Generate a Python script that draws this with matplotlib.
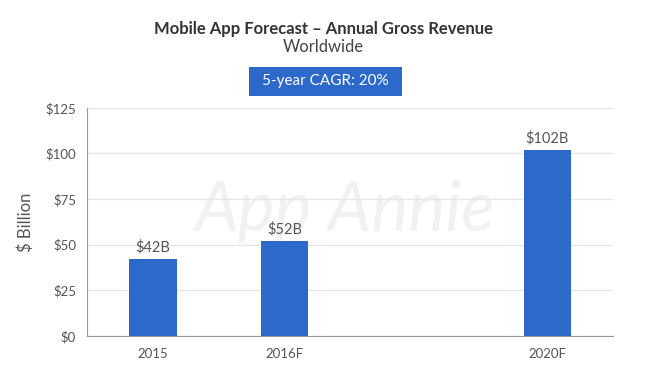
import matplotlib.pyplot as plt
from matplotlib.patches import Rectangle

categories = ['2015', '2016F', '2020F']
positions = [0, 1, 3]
revenue = [42, 52, 102]
bar_labels = ['$42B', '$52B', '$102B']
yticks = [0, 25, 50, 75, 100, 125]
ytick_labels = ['$0', '$25', '$50', '$75', '$100', '$125']

plt.rcParams['font.family'] = ['Lato', 'DejaVu Sans']

blue = '#2c69cb'
grey = '#555555'

fig = plt.figure(figsize=(6.6, 3.77), dpi=100)
ax = fig.add_axes([0.132, 0.109, 0.797, 0.605])

ax.bar(positions, revenue, width=0.36, color=blue, zorder=3)
for x, v, lab in zip(positions, revenue, bar_labels):
    ax.text(x, v + 2.5, lab, ha='center', va='bottom', fontsize=10.5, color=grey, zorder=4)

ax.set_xlim(-0.5, 3.5)
ax.set_ylim(0, 125)
ax.set_xticks(positions)
ax.set_xticklabels(categories)
ax.set_yticks(yticks)
ax.set_yticklabels(ytick_labels)
ax.tick_params(length=0, labelsize=9.5, colors=grey, pad=8)
ax.tick_params(axis='x', pad=9)
ax.grid(axis='y', color='#e6e6e6', linewidth=1, zorder=0)
for s in ['top', 'right']:
    ax.spines[s].set_visible(False)
ax.spines['left'].set_color('#9a9a9a')
ax.spines['bottom'].set_color('#9a9a9a')
ax.set_ylabel('$ Billion', fontsize=12, color=grey, labelpad=8)

# watermark
ax.text(1.46, 68, 'App Annie', ha='center', va='center', fontsize=50,
        style='italic', color='#f1f1f1', zorder=1)

fig.text(0.49, 0.922, 'Mobile App Forecast \u2013 Annual Gross Revenue', ha='center',
         va='center', fontsize=12, fontweight='bold', color='#333333')
fig.text(0.49, 0.875, 'Worldwide', ha='center', va='center', fontsize=12, color='#444444')

# CAGR box
fig.patches.append(Rectangle((249 / 660, 1 - 96 / 377), 153 / 660, 29 / 377,
                             transform=fig.transFigure, facecolor=blue, edgecolor='none'))
fig.text(325.5 / 660, 1 - 81.5 / 377, '5-year CAGR: 20%', ha='center', va='center',
         fontsize=11, color='white')

fig.savefig('out.png', dpi=100)
